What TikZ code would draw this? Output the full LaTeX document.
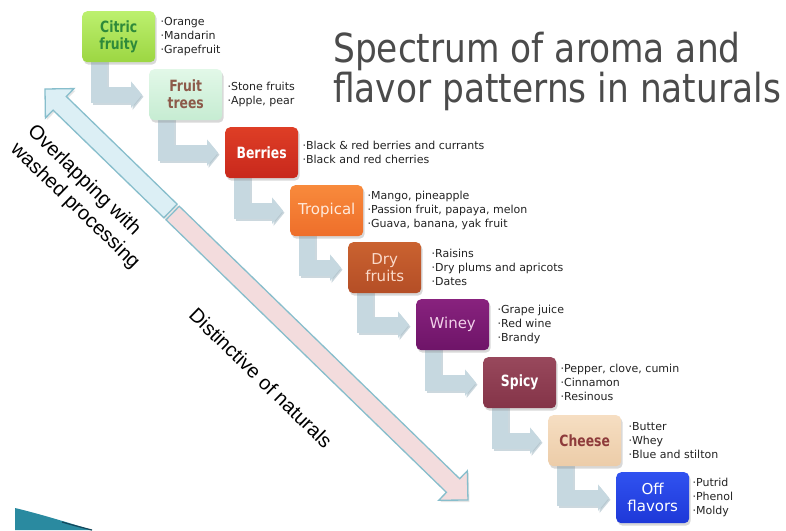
\documentclass[tikz,border=0pt]{standalone}
\usepackage{fontspec}
\usetikzlibrary{arrows.meta,shadows,positioning}
\newfontfamily\lblfont{DejaVu Sans}
\newfontfamily\lblbold[FakeStretch=0.8]{DejaVu Sans}
\newfontfamily\ttlfont[FakeStretch=0.86]{DejaVu Sans}
\newfontfamily\arl{Liberation Sans}
\definecolor{conn}{RGB}{198,216,224}
\definecolor{connS}{RGB}{170,190,200}
\definecolor{citA}{RGB}{188,240,110}
\definecolor{citB}{RGB}{156,214,66}
\definecolor{citT}{RGB}{46,138,58}
\definecolor{frA}{RGB}{226,248,232}
\definecolor{frB}{RGB}{198,236,210}
\definecolor{frT}{RGB}{140,90,74}
\definecolor{beA}{RGB}{222,62,38}
\definecolor{beB}{RGB}{200,40,28}
\definecolor{trA}{RGB}{248,138,60}
\definecolor{trB}{RGB}{238,110,42}
\definecolor{trT}{RGB}{255,234,220}
\definecolor{drA}{RGB}{202,98,48}
\definecolor{drB}{RGB}{180,78,38}
\definecolor{drT}{RGB}{250,218,202}
\definecolor{wiA}{RGB}{136,34,126}
\definecolor{wiB}{RGB}{110,20,104}
\definecolor{wiT}{RGB}{242,210,234}
\definecolor{spA}{RGB}{152,72,92}
\definecolor{spB}{RGB}{132,52,72}
\definecolor{chA}{RGB}{246,222,194}
\definecolor{chB}{RGB}{236,204,168}
\definecolor{chT}{RGB}{142,59,59}
\definecolor{ofA}{RGB}{48,82,240}
\definecolor{ofB}{RGB}{30,56,216}
\definecolor{bultxt}{RGB}{35,35,35}
\definecolor{ttl}{RGB}{75,75,75}
\definecolor{dblue}{RGB}{220,239,245}
\definecolor{dpink}{RGB}{243,220,221}
\definecolor{dedge}{RGB}{135,190,204}
\definecolor{swoosh}{RGB}{42,138,160}
\definecolor{swooshD}{RGB}{20,70,90}
\pgfdeclarelayer{back}
\pgfdeclarelayer{bg}
\pgfsetlayers{back,bg,main}
\tikzset{
  box/.style={rounded corners=5pt, minimum width=73pt, minimum height=51pt,
    inner sep=0pt, align=center, anchor=north west,
    drop shadow={shadow xshift=1.5pt, shadow yshift=-2.5pt, opacity=0.3}},
  lb/.style={font=\lblbold\bfseries\fontsize{15.5}{17}\selectfont},
  lr/.style={font=\lblfont\fontsize{15}{17}\selectfont},
  bul/.style={font=\lblfont\fontsize{11}{14}\selectfont, align=left,
    inner sep=0pt, text=bultxt},
  lconn/.style={draw=conn, line width=16pt,
    -{Triangle[width=26pt,length=11pt]}},
  lconnS/.style={draw=connS, line width=16pt, opacity=0.6,
    -{Triangle[width=26pt,length=11pt]}},
  arlabel/.style={font=\arl\fontsize{20}{24.5}\selectfont, inner sep=0pt,
    rotate=-44.18},
  diag/.style={draw=dedge, line width=1.3pt, line join=miter,
    drop shadow={shadow xshift=1.5pt, shadow yshift=-2pt, opacity=0.2}}
}
\begin{document}
\begin{tikzpicture}[x=1pt,y=-1pt]
\useasboundingbox (0,0) rectangle (786,530);
\begin{pgfonlayer}{back}
\fill[white] (0,0) rectangle (786,530);
% corner swoosh
\fill[swoosh] (15,508) .. controls (40,514) and (66,522) .. (92,530) -- (15,530) -- cycle;
\draw[swooshD, line width=1.2pt] (62,522) .. controls (74,525.5) and (84,528) .. (92,530);
\end{pgfonlayer}

% diagonal double arrow
\begin{scope}[shift={(45,89)}, rotate=-44.18]
  \filldraw[diag, fill=dblue] (0,0) -- (20.5,-20.5) -- (20.5,-9.5) -- (175,-9.5) -- (175,9.5) -- (20.5,9.5) -- (20.5,20.5) -- cycle;
  \filldraw[diag, fill=dpink] (178,-9.5) -- (569,-9.5) -- (569,-20.5) -- (589.8,0) -- (569,20.5) -- (569,9.5) -- (178,9.5) -- cycle;
\end{scope}

\node[arlabel, anchor=north west, align=left] (over) at (37,122) {Overlapping with\\washed processing};
\node[arlabel] (dist) at (261,378) {Distinctive of naturals};

% title
\node[anchor=north west, align=left, inner sep=0pt, text=ttl,
  font=\ttlfont\fontsize{40}{36}\selectfont] (title) at (333,32)
  {Spectrum of aroma and\\flavor patterns in naturals};

% boxes
\node[box, lb, top color=citA, bottom color=citB, text=citT] (citric) at (82,11) {Citric\\fruity};
\node[box, lb, top color=frA, bottom color=frB, text=frT] (fruit) at (149,69) {Fruit\\trees};
\node[box, lb, top color=beA, bottom color=beB, text=white] (berries) at (225,127) {Berries};
\node[box, lr, top color=trA, bottom color=trB, text=trT] (tropical) at (290,185) {Tropical};
\node[box, lr, top color=drA, bottom color=drB, text=drT] (dry) at (348,242) {Dry\\fruits};
\node[box, lr, top color=wiA, bottom color=wiB, text=wiT] (winey) at (416,299) {Winey};
\node[box, lb, top color=spA, bottom color=spB, text=white] (spicy) at (483,357) {Spicy};
\node[box, lb, top color=chA, bottom color=chB, text=chT] (cheese) at (548,415) {Cheese};
\node[box, lr, top color=ofA, bottom color=ofB, text=white] (off) at (616,472) {Off\\flavors};

% bullet lists
\node[bul, right=5pt of citric] (citricL) {·Orange\\·Mandarin\\·Grapefruit};
\node[bul, right=5pt of fruit] (fruitL) {·Stone fruits\\·Apple, pear};
\node[bul, right=4pt of berries] (berriesL) {·Black \& red berries and currants\\·Black and red cherries};
\node[bul, right=4pt of tropical] (tropicalL) {·Mango, pineapple\\·Passion fruit, papaya, melon\\·Guava, banana, yak fruit};
\node[bul, right=10pt of dry] (dryL) {·Raisins\\·Dry plums and apricots\\·Dates};
\node[bul, right=8pt of winey] (wineyL) {·Grape juice\\·Red wine\\·Brandy};
\node[bul, right=4pt of spicy] (spicyL) {·Pepper, clove, cumin\\·Cinnamon\\·Resinous};
\node[bul, right=7pt of cheese] (cheeseL) {·Butter\\·Whey\\·Blue and stilton};
\node[bul, right=3pt of off] (offL) {·Putrid\\·Phenol\\·Moldy};

% L-shaped connectors
\begin{pgfonlayer}{bg}
\foreach \a/\b in {citric/fruit, fruit/berries, berries/tropical, tropical/dry,
                   dry/winey, winey/spicy, spicy/cheese, cheese/off}{
  \draw[lconnS] ([xshift=18.5pt]\a.south west) |- ([xshift=-5.5pt,yshift=-2pt]\b.west);
  \draw[lconn] ([xshift=17pt]\a.south west) |- ([xshift=-7pt]\b.west);
}
\end{pgfonlayer}
\end{tikzpicture}
\end{document}
